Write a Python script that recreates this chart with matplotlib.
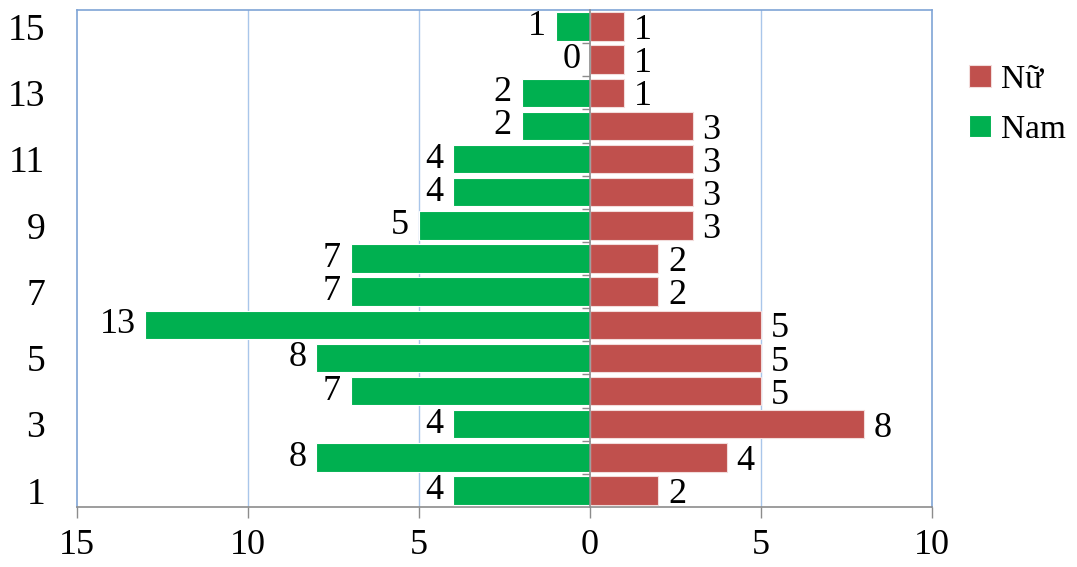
import matplotlib.pyplot as plt
import numpy as np

plt.rcParams['font.family'] = ['Liberation Serif', 'DejaVu Serif']

groups = list(range(1, 16))
nam = [4, 8, 4, 7, 8, 13, 7, 7, 5, 4, 4, 2, 2, 0, 1]
nu = [2, 4, 8, 5, 5, 5, 2, 2, 3, 3, 3, 3, 1, 1, 1]
xticks = [-15, -10, -5, 0, 5, 10]
xticklabels = ['15', '10', '5', '0', '5', '10']

green = '#00B050'
red = '#C0504D'
grid_col = '#A9C6EA'
frame_col = '#7FA4D6'
axis_col = '#8C8C8C'

fig = plt.figure(figsize=(10.77, 5.67), dpi=100)
ax = fig.add_axes([0.0715, 0.1058, 0.7938, 0.8766])

y = np.array(groups)
nam_arr = -np.array(nam)
nu_arr = np.array(nu)

ax.barh(y, nu_arr, height=0.86, color=red, edgecolor='#F2DCDB', linewidth=0.8, label='Nữ', zorder=3)
ax.barh(y, nam_arr, height=0.86, color=green, edgecolor='white', linewidth=0.8, label='Nam', zorder=3)

for yi, v in zip(y, nam):
    ax.annotate(str(v), (-v, yi), xytext=(-7, 0), textcoords='offset points',
                ha='right', va='center', fontsize=26)
for yi, v in zip(y, nu):
    ax.annotate(str(v), (v, yi), xytext=(7, -3), textcoords='offset points',
                ha='left', va='center', fontsize=26)

ax.set_xlim(-15, 10)
ax.set_ylim(0.5, 15.5)
ax.set_xticks(xticks)
ax.set_xticklabels(xticklabels, fontsize=26)
ax.set_yticks(groups[::2])
ax.set_yticklabels([str(g) for g in groups[::2]], fontsize=27)
ax.tick_params(axis='y', length=0, pad=23)
ax.tick_params(axis='x', length=8, color=axis_col, width=1, pad=8)

for xv in [-10, -5, 5]:
    ax.axvline(xv, color=grid_col, lw=1, zorder=1)

for side in ['top', 'left', 'right']:
    ax.spines[side].set_color(frame_col)
    ax.spines[side].set_linewidth(1.2)
ax.spines['bottom'].set_color(axis_col)
ax.spines['bottom'].set_linewidth(1.2)

# vertical axis at zero with category tick marks
sec = ax.secondary_yaxis(0.6)
sec.set_alignment('left')
sec.set_yticks(np.arange(1.5, 15, 1.0))
sec.set_yticklabels([])
sec.tick_params(length=6, width=1, color=axis_col, direction='out')
for s in ['left', 'right']:
    sec.spines[s].set_color(axis_col)
    sec.spines[s].set_linewidth(1.2)
sec.set_zorder(4)

handles, labels = ax.get_legend_handles_labels()
fig.legend(handles, labels, loc='upper left', bbox_to_anchor=(0.872, 0.94),
           frameon=False, fontsize=24, handlelength=0.65, handleheight=0.65,
           handletextpad=0.3, labelspacing=0.6)

fig.savefig('out.png', dpi=100)
